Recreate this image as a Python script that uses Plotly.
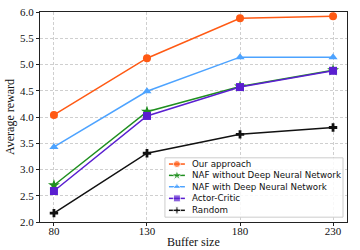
import plotly.graph_objects as go

buffer_sizes = [80, 130, 180, 230]
series_names = ["Our approach", "NAF without Deep Neural Network",
                "NAF with Deep Neural Network", "Actor-Critic", "Random"]
our_approach = [4.04, 5.12, 5.88, 5.92]
naf_without_dnn = [2.70, 4.10, 4.58, 4.89]
naf_with_dnn = [3.43, 4.49, 5.14, 5.14]
actor_critic = [2.59, 4.02, 4.57, 4.88]
random_policy = [2.17, 3.31, 3.67, 3.80]
y_ticks = [2.0, 2.5, 3.0, 3.5, 4.0, 4.5, 5.0, 5.5, 6.0]

values = [our_approach, naf_without_dnn, naf_with_dnn, actor_critic, random_policy]
colors = ["#ff5a14", "#1f8f1f", "#4da3ff", "#5a1fd0", "#111111"]
symbols = ["circle", "star", "triangle-up", "square", "cross"]
sizes = [8, 9, 8, 8, 7]

fig = go.Figure()
for name, vals, c, s, sz in zip(series_names, values, colors, symbols, sizes):
    fig.add_trace(go.Scatter(
        x=buffer_sizes, y=vals, name=name, mode="lines+markers",
        line=dict(color=c, width=1.5),
        marker=dict(symbol=s, size=sz, color=c),
        showlegend=False))

# custom legend drawn on an overlay axis [0,1]x[0,1]
bx0, bx1, by0, by1 = 0.407, 0.987, 0.023, 0.3056
fig.add_trace(go.Scatter(
    x=[bx0, bx1, bx1, bx0, bx0], y=[by0, by0, by1, by1, by0],
    xaxis="x2", yaxis="y2", mode="lines", fill="toself",
    fillcolor="rgba(255,255,255,0.85)", line=dict(color="#cccccc", width=1),
    showlegend=False, hoverinfo="skip"))
row_y = [0.276, 0.222, 0.168, 0.1125, 0.0556]
for name, c, s, sz, yy in zip(series_names, colors, symbols, sizes, row_y):
    fig.add_trace(go.Scatter(
        x=[0.420, 0.446, 0.472], y=[yy, yy, yy], xaxis="x2", yaxis="y2",
        mode="lines+markers", line=dict(color=c, width=1.5),
        marker=dict(symbol=s, size=[0, sz - 1, 0], color=c),
        showlegend=False, hoverinfo="skip"))
    fig.add_annotation(x=0.490, y=yy, xref="x2", yref="y2", text=name,
                       showarrow=False, xanchor="left", yanchor="middle",
                       font=dict(family="DejaVu Sans", size=8.7, color="#111111"))

title_font = dict(family="Liberation Serif", size=12, color="#111111")
fig.add_annotation(x=0.5, y=-0.097, xref="paper", yref="paper", text="Buffer size",
                   showarrow=False, xanchor="center", yanchor="middle", font=title_font)
fig.add_annotation(x=-0.0977, y=0.5, xref="paper", yref="paper", text="Average reward",
                   showarrow=False, xanchor="center", yanchor="middle", textangle=-90,
                   font=title_font)

axis_common = dict(showline=True, linecolor="#222222", linewidth=1, mirror=True,
                   ticks="outside", ticklen=3, tickcolor="#222222",
                   showgrid=True, gridcolor="#cfcfcf", griddash="3px,2px", gridwidth=0.8,
                   zeroline=False, ticklabeloverflow="allow",
                   tickfont=dict(family="Liberation Serif", size=11, color="#111111"))

fig.update_layout(
    width=360, height=250,
    margin=dict(l=40, r=13, t=6, b=28),
    plot_bgcolor="white", paper_bgcolor="white",
    xaxis=dict(range=[72.5, 237.5], tickvals=buffer_sizes, ticklabelstandoff=-4,
               **axis_common),
    yaxis=dict(range=[2.0, 6.0], tickvals=y_ticks, tickformat=".1f",
               **axis_common),
    xaxis2=dict(overlaying="x", range=[0, 1], visible=False, fixedrange=True),
    yaxis2=dict(overlaying="y", range=[0, 1], visible=False, fixedrange=True),
)

fig.write_html("out.html", config={"displayModeBar": False},
               post_script="document.body.style.margin='0';document.body.style.overflow='hidden';")
